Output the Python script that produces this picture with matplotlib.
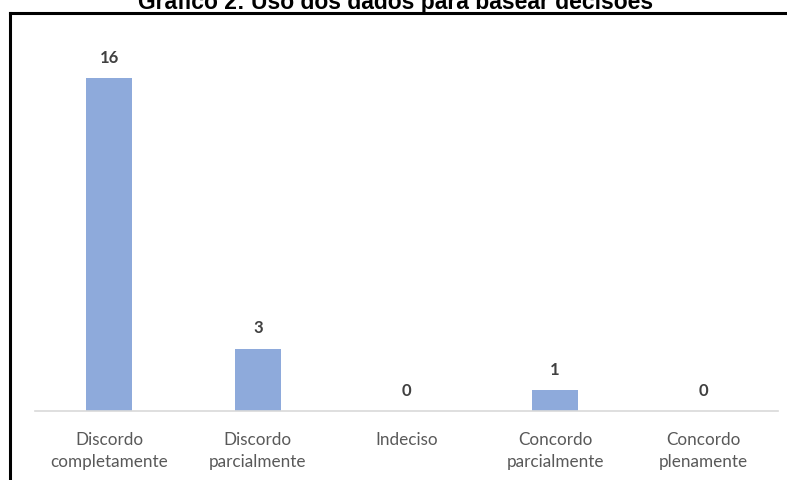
import matplotlib.pyplot as plt
from matplotlib.lines import Line2D

categorias = ["Discordo\ncompletamente", "Discordo\nparcialmente", "Indeciso",
              "Concordo\nparcialmente", "Concordo\nplenamente"]
valores = [16, 3, 0, 1, 0]
titulo = "Gráfico 2: Uso dos dados para basear decisões"

fig = plt.figure(figsize=(7.87, 4.8), dpi=100)
ax = fig.add_axes([35 / 787, 69 / 480, 743 / 787, 364 / 480])

x = range(len(categorias))
barras = ax.bar(x, valores, width=0.31, color="#8eaadb")
for b, v in zip(barras, valores):
    ax.text(b.get_x() + b.get_width() / 2, v + 0.6, str(v), ha="center", va="bottom",
            fontsize=12, fontweight="bold", color="#404040", family="Lato")

ax.set_xlim(-0.5, len(categorias) - 0.5)
ax.set_ylim(0, 17.5)
ax.set_yticks([])
ax.set_xticks(list(x))
ax.set_xticklabels(categorias, fontsize=12.3, color="#595959", family="Lato", linespacing=1.5)
ax.tick_params(axis="x", length=0, pad=15)
for s in ["top", "right", "left"]:
    ax.spines[s].set_visible(False)
ax.spines["bottom"].set_color("#d9d9d9")
ax.spines["bottom"].set_linewidth(1.2)

# moldura recortada do original
fig.add_artist(Line2D([10 / 787, 10 / 787], [0, 1 - 12.5 / 480], color="black", lw=2.2))
fig.add_artist(Line2D([10 / 787, 1.0], [1 - 12.5 / 480, 1 - 12.5 / 480], color="black", lw=2.2))

fig.text(396 / 787, 1 - 9 / 480, titulo, ha="center", va="baseline",
         fontsize=16.5, fontweight="bold", family="Liberation Sans")

fig.savefig("out.png", dpi=100)
